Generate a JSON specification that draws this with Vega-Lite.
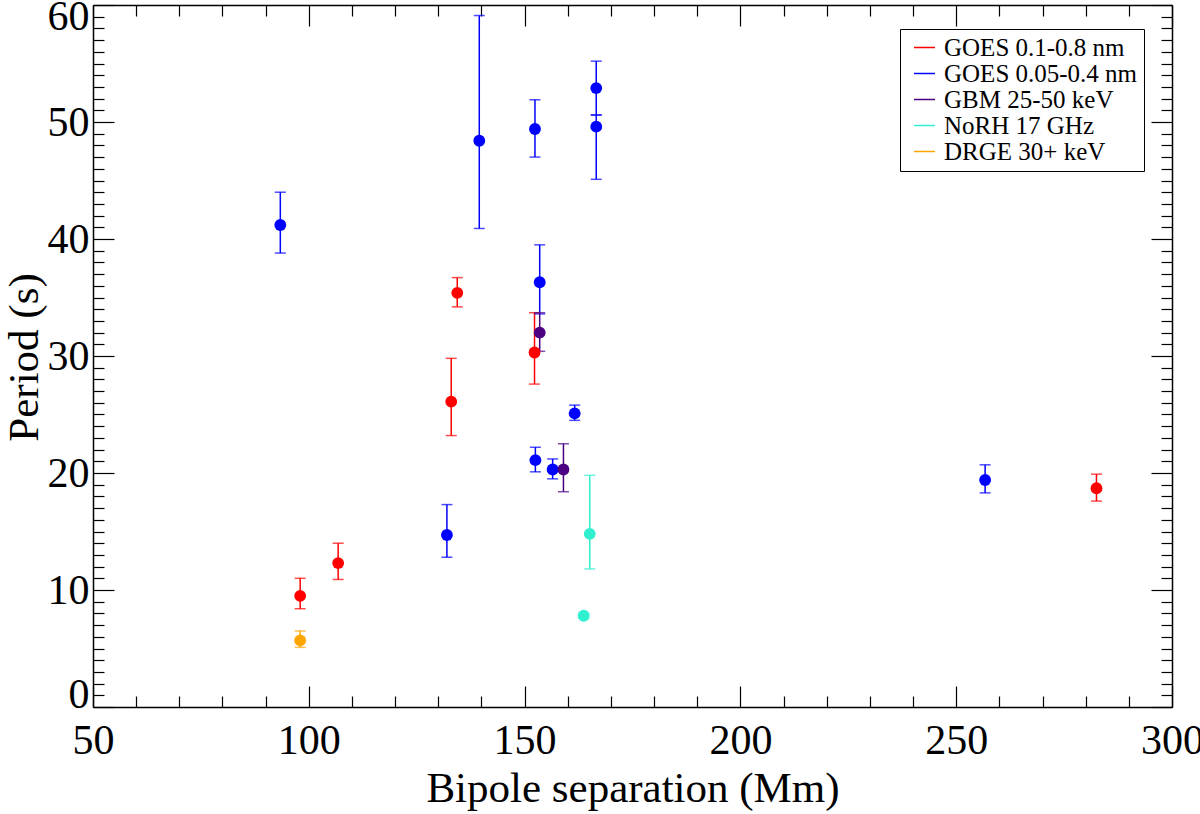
{
  "$schema": "https://vega.github.io/schema/vega-lite/v6.json",
  "autosize": "none",
  "width": 1079,
  "height": 702,
  "padding": {"left": 93, "top": 5, "right": 28, "bottom": 107},
  "background": "white",
  "data": {
    "values": [
      {"band": "GOES 0.1-0.8 nm", "sep": 98.0, "period": 9.5, "lo": 8.4, "hi": 11.0},
      {"band": "GOES 0.1-0.8 nm", "sep": 106.8, "period": 12.3, "lo": 10.9, "hi": 14.0},
      {"band": "GOES 0.1-0.8 nm", "sep": 133.0, "period": 26.1, "lo": 23.2, "hi": 29.8},
      {"band": "GOES 0.1-0.8 nm", "sep": 134.4, "period": 35.4, "lo": 34.2, "hi": 36.7},
      {"band": "GOES 0.1-0.8 nm", "sep": 152.3, "period": 30.3, "lo": 27.6, "hi": 33.7},
      {"band": "GOES 0.1-0.8 nm", "sep": 282.5, "period": 18.7, "lo": 17.6, "hi": 19.9},
      {"band": "GOES 0.05-0.4 nm", "sep": 93.4, "period": 41.2, "lo": 38.8, "hi": 44.0},
      {"band": "GOES 0.05-0.4 nm", "sep": 132.0, "period": 14.7, "lo": 12.8, "hi": 17.3},
      {"band": "GOES 0.05-0.4 nm", "sep": 139.5, "period": 48.4, "lo": 40.9, "hi": 59.1},
      {"band": "GOES 0.05-0.4 nm", "sep": 152.4, "period": 49.4, "lo": 47.0, "hi": 51.9},
      {"band": "GOES 0.05-0.4 nm", "sep": 152.5, "period": 21.1, "lo": 20.1, "hi": 22.2},
      {"band": "GOES 0.05-0.4 nm", "sep": 153.5, "period": 36.3, "lo": 33.6, "hi": 39.5},
      {"band": "GOES 0.05-0.4 nm", "sep": 156.5, "period": 20.3, "lo": 19.5, "hi": 21.2},
      {"band": "GOES 0.05-0.4 nm", "sep": 161.6, "period": 25.1, "lo": 24.5, "hi": 25.8},
      {"band": "GOES 0.05-0.4 nm", "sep": 166.6, "period": 52.9, "lo": 50.6, "hi": 55.2},
      {"band": "GOES 0.05-0.4 nm", "sep": 166.6, "period": 49.6, "lo": 45.1, "hi": 50.6},
      {"band": "GOES 0.05-0.4 nm", "sep": 256.7, "period": 19.4, "lo": 18.3, "hi": 20.7},
      {"band": "GBM 25-50 keV", "sep": 153.5, "period": 32.0, "lo": 30.4, "hi": 33.7},
      {"band": "GBM 25-50 keV", "sep": 159.0, "period": 20.3, "lo": 18.4, "hi": 22.5},
      {"band": "NoRH 17 GHz", "sep": 165.1, "period": 14.8, "lo": 11.8, "hi": 19.8},
      {"band": "NoRH 17 GHz", "sep": 163.7, "period": 7.8, "lo": 7.6, "hi": 8.0},
      {"band": "DRGE 30+ keV", "sep": 98.0, "period": 5.7, "lo": 5.1, "hi": 6.5}
    ]
  },
  "layer": [
    {
      "mark": {"type": "rule", "strokeWidth": 1.5},
      "encoding": {
        "x": {"field": "sep", "type": "quantitative", "scale": {"domain": [50, 300], "nice": false, "zero": false},
          "axis": {"orient": "bottom", "values": [60, 70, 80, 90, 110, 120, 130, 140, 160, 170, 180, 190, 210, 220, 230, 240, 260, 270, 280, 290], "tickSize": -11, "labels": false, "domain": false, "title": null}},
        "y": {"field": "lo", "type": "quantitative", "scale": {"domain": [0, 60], "nice": false},
          "axis": {"orient": "left", "values": [1, 2, 3, 4, 5, 6, 7, 8, 9, 11, 12, 13, 14, 15, 16, 17, 18, 19, 21, 22, 23, 24, 25, 26, 27, 28, 29, 31, 32, 33, 34, 35, 36, 37, 38, 39, 41, 42, 43, 44, 45, 46, 47, 48, 49, 51, 52, 53, 54, 55, 56, 57, 58, 59], "tickSize": -11, "labels": false, "domain": false, "title": null}},
        "y2": {"field": "hi"},
        "color": {"field": "band", "type": "nominal",
          "scale": {"domain": ["GOES 0.1-0.8 nm", "GOES 0.05-0.4 nm", "GBM 25-50 keV", "NoRH 17 GHz", "DRGE 30+ keV"],
            "range": ["#ff0000", "#0000ff", "#4b0082", "#30f0d0", "#ffa500"]},
          "legend": {"orient": "none", "legendX": 807, "legendY": 24, "title": null}}
      }
    },
    {
      "mark": {"type": "tick", "orient": "horizontal", "size": 11, "thickness": 1.5},
      "encoding": {
        "x": {"field": "sep", "type": "quantitative",
          "axis": {"orient": "top", "values": [60, 70, 80, 90, 110, 120, 130, 140, 160, 170, 180, 190, 210, 220, 230, 240, 260, 270, 280, 290], "tickSize": -11, "labels": false, "domain": false, "title": null}},
        "y": {"field": "lo", "type": "quantitative",
          "axis": {"orient": "right", "values": [1, 2, 3, 4, 5, 6, 7, 8, 9, 11, 12, 13, 14, 15, 16, 17, 18, 19, 21, 22, 23, 24, 25, 26, 27, 28, 29, 31, 32, 33, 34, 35, 36, 37, 38, 39, 41, 42, 43, 44, 45, 46, 47, 48, 49, 51, 52, 53, 54, 55, 56, 57, 58, 59], "tickSize": -11, "labels": false, "domain": false, "title": null}},
        "color": {"field": "band", "type": "nominal", "legend": null}
      }
    },
    {
      "mark": {"type": "tick", "orient": "horizontal", "size": 11, "thickness": 1.5},
      "encoding": {
        "x": {"field": "sep", "type": "quantitative",
          "axis": {"orient": "top", "values": [50, 100, 150, 200, 250, 300], "tickSize": -21, "labels": false, "title": null}},
        "y": {"field": "hi", "type": "quantitative",
          "axis": {"orient": "right", "values": [0, 10, 20, 30, 40, 50, 60], "tickSize": -21, "labels": false, "title": null}},
        "color": {"field": "band", "type": "nominal", "legend": null}
      }
    },
    {
      "mark": {"type": "circle", "size": 140, "opacity": 1},
      "encoding": {
        "x": {"field": "sep", "type": "quantitative",
          "axis": {"orient": "bottom", "values": [50, 100, 150, 200, 250, 300], "tickSize": -21, "labelPadding": 34, "labelFlush": false, "title": "Bipole separation (Mm)", "titleX": 539.5, "titleY": 94, "titleBaseline": "alphabetic"}},
        "y": {"field": "period", "type": "quantitative",
          "axis": {"orient": "left", "values": [0, 10, 20, 30, 40, 50, 60], "tickSize": -21, "labelPadding": 25, "labelFlush": true, "labelFlushOffset": 9, "title": "Period (s)", "titleX": -56, "titleY": 352, "titleBaseline": "alphabetic"}},
        "color": {"field": "band", "type": "nominal", "legend": null}
      }
    }
  ],
  "resolve": {"axis": {"x": "independent", "y": "independent"}},
  "config": {
    "view": {"stroke": null},
    "font": "Liberation Serif",
    "axis": {
      "grid": false,
      "domainColor": "black",
      "domainWidth": 1.5,
      "tickColor": "black",
      "tickWidth": 1.2,
      "labelColor": "black",
      "labelFont": "Liberation Serif",
      "labelFontSize": 42,
      "labelFontWeight": "normal",
      "titleColor": "black",
      "titleFont": "Liberation Serif",
      "titleFontSize": 43,
      "titleFontWeight": "normal"
    },
    "legend": {
      "symbolType": "stroke",
      "symbolSize": 441,
      "symbolStrokeWidth": 1.5,
      "symbolOffset": 6,
      "labelFont": "Liberation Serif",
      "labelFontSize": 25,
      "labelColor": "black",
      "labelLimit": 400,
      "labelOffset": 7,
      "rowPadding": -1,
      "strokeColor": "black",
      "padding": 6,
      "fillColor": "white"
    }
  }
}
